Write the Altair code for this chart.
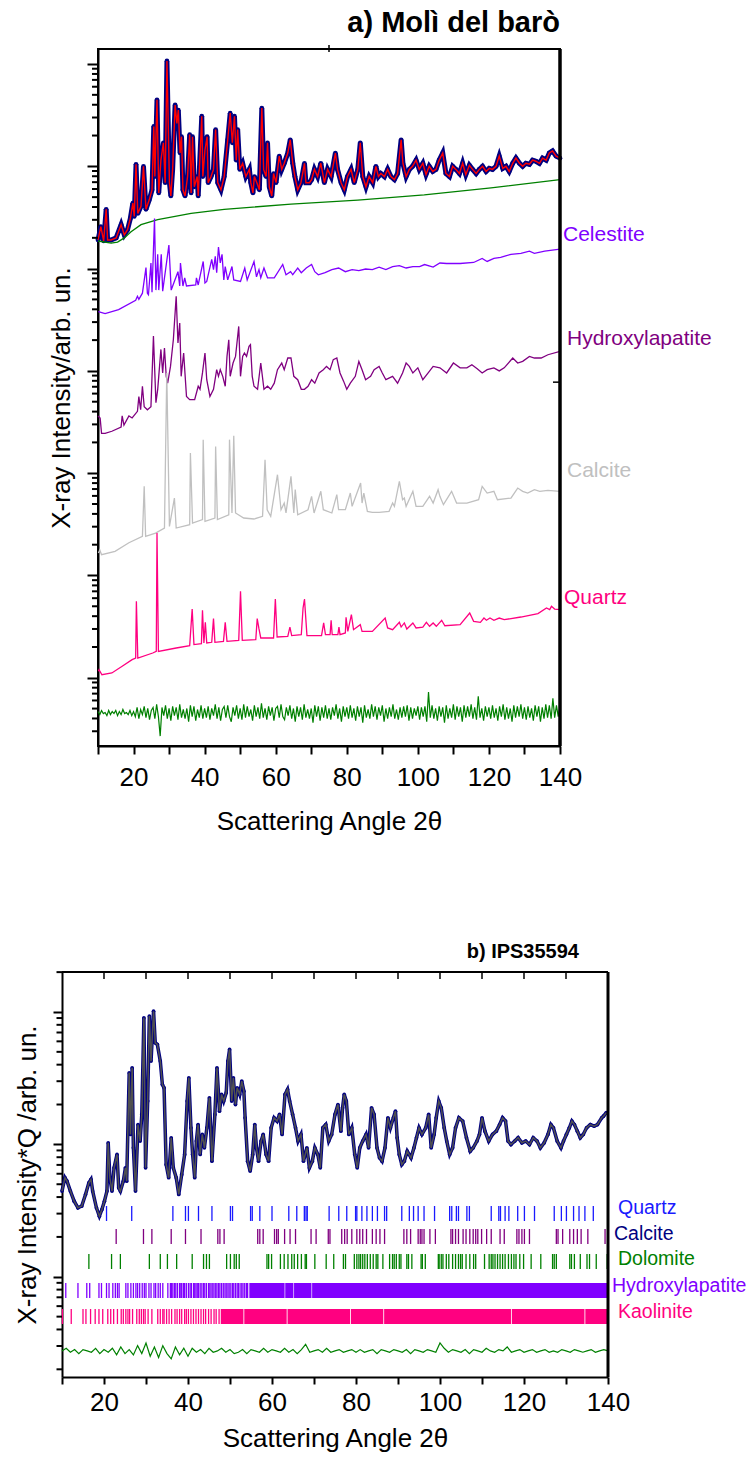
import altair as alt
import pandas as pd

FONT = "Liberation Sans"

# =================== Panel a) Molì del barò ===================
# pairs: (2theta in degrees, log10 of intensity as displayed)
a_profile = [(10.0,4.28),(10.8,4.41),(11.6,4.27),(12.3,4.58),(12.7,4.28),(13.7,4.28),(15.1,4.30),(16.5,4.43),(17.4,4.33),(18.3,4.38),(19.1,4.49),(19.8,4.64),(20.2,4.51),(20.7,5.02),(21.2,4.54),(22.1,4.61),(22.8,5.00),(23.5,4.58),(24.4,4.67),(25.2,4.77),(25.7,5.39),(26.0,4.90),(26.6,5.65),(27.1,4.74),(27.7,5.06),(28.4,5.23),(28.9,4.84),(29.4,6.03),(30.1,4.84),(30.5,4.71),(31.0,4.97),(31.7,5.60),(32.2,5.42),(32.6,5.55),(33.1,5.13),(33.5,5.29),(33.9,4.77),(34.5,4.71),(35.2,4.90),(35.8,5.31),(36.2,4.74),(36.6,5.29),(37.1,4.80),(37.9,4.90),(38.2,4.71),(39.2,5.49),(39.5,4.90),(40.1,5.16),(40.7,5.29),(41.0,4.84),(41.8,4.90),(42.5,4.97),(43.1,5.36),(43.7,4.84),(44.6,4.77),(45.5,4.90),(46.5,5.26),(47.2,5.52),(47.8,5.23),(48.4,5.49),(48.9,5.06),(49.3,5.36),(49.9,4.97),(50.7,5.03),(51.6,4.90),(52.6,4.97),(53.0,4.84),(53.6,4.74),(54.0,4.90),(54.7,4.84),(55.4,4.77),(56.1,5.57),(56.6,4.97),(57.3,4.90),(57.7,5.23),(58.2,4.80),(58.9,4.71),(59.4,4.93),(60.1,4.84),(61.0,5.10),(61.7,4.97),(62.4,5.03),(63.4,5.13),(64.1,5.26),(64.8,5.03),(65.4,4.90),(66.2,4.77),(67.1,4.84),(68.1,5.03),(68.5,4.84),(69.5,4.84),(70.1,4.87),(70.9,4.97),(71.8,4.90),(72.7,5.03),(73.7,4.84),(74.6,4.97),(75.6,4.90),(76.8,5.13),(77.4,4.97),(78.4,4.84),(79.3,4.77),(80.2,4.90),(81.2,4.97),(82.1,4.84),(83.1,4.97),(83.8,5.23),(84.5,4.90),(85.4,4.80),(86.3,4.90),(87.3,4.84),(88.2,5.00),(88.9,4.90),(89.6,4.93),(90.6,4.90),(91.5,4.97),(92.4,4.90),(93.4,4.87),(94.3,4.93),(95.3,5.26),(95.8,5.03),(96.7,4.90),(97.6,4.97),(98.5,5.00),(99.5,5.06),(100.4,4.97),(101.4,5.03),(102.3,4.92),(103.2,5.00),(104.2,4.95),(105.1,4.97),(106.0,5.06),(107.0,5.13),(107.9,4.93),(108.9,4.90),(109.8,5.00),(110.7,4.97),(111.7,4.93),(112.6,5.03),(113.5,4.92),(114.5,5.01),(115.4,4.97),(116.4,4.93),(117.3,4.97),(118.2,5.00),(119.2,4.95),(120.1,4.98),(121.0,4.97),(122.0,5.00),(122.9,5.10),(123.9,4.98),(124.8,5.00),(125.7,4.95),(126.7,5.03),(127.6,5.08),(128.6,5.03),(129.5,5.00),(130.4,5.03),(131.4,5.02),(132.3,5.06),(133.2,5.05),(134.2,5.03),(135.1,5.08),(136.1,5.06),(137.0,5.13),(137.9,5.15),(138.9,5.10),(140.0,5.08)]
a_background = [(10.0,4.27),(13.7,4.25),(15.5,4.26),(17.4,4.30),(19.3,4.36),(22.1,4.43),(26.8,4.48),(36.2,4.54),(45.5,4.58),(64.3,4.63),(83.1,4.67),(101.8,4.72),(120.6,4.79),(140.0,4.87)]
a_celestite = [(10.1,3.58),(12.0,3.56),(15.8,3.60),(20.6,3.69),(21.1,3.73),(21.5,3.70),(22.5,3.76),(23.5,4.01),(23.9,3.76),(24.2,3.745),(24.9,4.055),(25.2,3.77),(25.9,4.49),(26.3,3.79),(26.8,4.14),(27.1,3.79),(27.8,4.14),(28.2,3.78),(29.95,4.23),(30.6,3.79),(32.5,3.97),(33.0,3.83),(33.2,4.055),(33.9,3.83),(34.4,3.91),(34.9,3.83),(37.5,3.84),(37.7,3.91),(38.2,3.84),(39.6,4.07),(40.1,3.86),(40.6,3.875),(42.0,4.09),(42.5,3.99),(43.0,4.12),(43.4,3.96),(43.9,4.21),(44.4,4.055),(44.9,4.14),(45.4,3.89),(45.8,4.02),(46.5,3.89),(47.7,4.02),(48.2,3.89),(50.1,3.875),(51.3,4.006),(51.98,3.89),(53.9,4.07),(54.6,3.92),(55.3,3.99),(55.8,3.91),(56.7,4.006),(57.7,3.91),(59.6,3.91),(61.98,4.04),(62.9,3.94),(64.2,3.97),(64.8,3.94),(66.2,4.006),(67.2,3.96),(68.6,4.006),(70.1,4.04),(71.0,3.97),(72.0,3.94),(73.9,3.96),(75.8,3.99),(77.7,4.006),(79.6,3.97),(81.5,3.99),(83.4,3.98),(85.3,3.996),(87.2,3.99),(89.1,4.015),(91.0,3.99),(92.9,4.02),(94.8,4.03),(96.7,4.006),(98.6,4.02),(100.5,4.02),(101.9,4.04),(104.3,4.015),(106.2,4.055),(108.1,4.05),(111.9,4.05),(115.7,4.06),(118.1,4.10),(119.5,4.07),(121.4,4.10),(123.3,4.11),(126.2,4.14),(129.0,4.15),(131.4,4.17),(132.8,4.15),(135.7,4.17),(140.0,4.19)]
a_hydroxylapatite = [(10.0,2.56),(10.6,2.54),(11.0,2.39),(12.0,2.39),(13.9,2.41),(16.5,2.45),(16.8,2.56),(17.3,2.47),(18.7,2.56),(19.6,2.54),(21.1,2.605),(21.5,2.75),(22.0,2.62),(22.5,2.85),(23.0,2.65),(23.9,2.62),(24.9,2.65),(25.6,3.34),(26.3,2.69),(26.8,2.82),(27.7,3.21),(28.2,2.98),(28.7,3.224),(29.2,2.947),(29.6,2.88),(30.4,3.044),(31.2,3.305),(32.0,3.729),(32.5,3.273),(33.0,3.468),(33.4,2.947),(34.1,3.175),(34.9,2.75),(35.8,2.719),(37.2,2.719),(38.2,2.85),(38.7,2.82),(39.4,2.98),(40.1,3.175),(40.6,2.914),(41.5,2.75),(42.5,2.82),(43.4,3.012),(43.9,2.947),(44.4,3.012),(45.1,2.947),(45.8,2.85),(46.3,3.142),(46.8,3.305),(47.2,2.947),(48.0,3.077),(48.7,3.142),(49.1,3.273),(49.6,3.435),(50.1,2.947),(50.7,3.142),(51.2,3.175),(51.8,3.142),(52.5,3.24),(52.9,3.256),(53.4,2.947),(53.9,2.85),(54.9,2.82),(55.8,3.077),(56.7,2.82),(57.7,2.85),(58.6,2.82),(59.6,2.88),(60.5,3.012),(61.7,3.077),(62.4,3.012),(63.4,3.126),(64.3,3.126),(65.1,2.947),(66.2,2.914),(67.2,2.82),(68.1,2.82),(69.1,2.85),(70.1,2.914),(71.0,2.88),(72.2,2.98),(73.4,3.012),(74.3,3.044),(75.3,3.012),(76.2,3.11),(77.2,3.126),(78.1,2.98),(79.1,2.90),(80.0,2.82),(81.0,2.88),(82.4,2.947),(83.4,3.093),(84.3,3.012),(85.3,2.914),(86.7,2.947),(87.7,3.012),(89.1,3.044),(90.0,2.98),(91.0,2.914),(92.9,2.947),(94.3,2.88),(95.7,2.98),(96.7,3.077),(97.6,3.044),(98.6,2.98),(100.0,3.03),(101.4,2.914),(102.9,2.98),(104.3,3.044),(106.2,3.03),(108.1,2.98),(110.0,3.077),(111.9,3.03),(113.8,3.03),(115.2,3.06),(116.7,3.02),(118.1,2.98),(119.5,3.012),(121.4,3.03),(122.9,3.0),(124.3,3.03),(126.7,3.126),(128.1,3.077),(129.5,3.093),(131.4,3.142),(132.8,3.126),(134.7,3.126),(136.6,3.158),(140.0,3.19)]
a_calcite = [(10.1,1.22),(10.5,1.25),(11.0,1.204),(14.8,1.236),(18.7,1.32),(22.5,1.383),(23.0,1.871),(23.4,1.383),(26.2,1.415),(28.7,1.464),(29.35,2.979),(30.1,1.48),(31.5,1.757),(32.0,1.464),(35.8,1.497),(36.0,2.197),(36.6,1.513),(39.4,1.546),(39.6,2.328),(40.1,1.529),(42.9,1.562),(43.1,2.262),(43.6,1.546),(46.8,1.594),(47.0,2.328),(47.7,1.611),(48.2,2.367),(48.7,1.611),(51.0,1.562),(53.9,1.552),(56.3,1.578),(56.6,1.806),(57.0,2.132),(57.6,1.643),(58.6,1.578),(60.5,1.985),(61.5,1.643),(62.4,1.708),(62.9,1.611),(64.3,1.969),(65.1,1.611),(65.5,1.839),(66.2,1.594),(69.1,1.643),(70.1,1.774),(70.8,1.611),(72.7,1.823),(73.4,1.643),(75.8,1.611),(77.2,1.790),(77.7,1.643),(79.6,1.643),(81.0,1.806),(81.5,1.676),(83.9,1.904),(84.3,1.708),(84.8,1.806),(85.8,1.627),(87.2,1.617),(89.1,1.617),(91.9,1.627),(92.9,1.708),(93.4,1.676),(94.8,1.92),(95.7,1.741),(96.2,1.757),(96.7,1.676),(98.6,1.823),(99.5,1.676),(101.4,1.676),(103.3,1.774),(104.3,1.708),(105.7,1.839),(106.2,1.774),(107.2,1.692),(109.5,1.823),(110.9,1.708),(113.8,1.708),(117.1,1.741),(118.1,1.871),(119.5,1.806),(121.4,1.823),(122.4,1.741),(126.2,1.757),(128.1,1.855),(129.5,1.823),(130.9,1.806),(132.8,1.839),(134.3,1.823),(136.6,1.832),(140.0,1.823)]
a_quartz = [(10.1,0.063),(10.3,0.079),(11.1,0.030),(13.9,0.047),(16.8,0.112),(19.6,0.177),(20.6,0.193),(20.8,0.747),(21.2,0.193),(25.4,0.242),(26.4,0.258),(26.6,1.415),(27.0,0.258),(32.0,0.291),(35.8,0.314),(36.5,0.672),(37.0,0.324),(39.1,0.333),(39.4,0.659),(39.8,0.340),(40.2,0.542),(40.6,0.340),(42.0,0.347),(42.5,0.578),(42.9,0.347),(45.3,0.356),(45.8,0.542),(46.3,0.356),(49.6,0.366),(50.1,0.845),(50.6,0.366),(54.4,0.373),(54.8,0.578),(55.3,0.477),(55.8,0.389),(59.4,0.389),(59.9,0.770),(60.4,0.399),(63.4,0.405),(64.0,0.496),(64.5,0.412),(67.2,0.421),(67.7,0.682),(68.1,0.770),(68.8,0.412),(72.9,0.412),(73.5,0.536),(74.0,0.421),(75.3,0.421),(75.6,0.562),(75.9,0.421),(77.5,0.421),(77.8,0.496),(78.1,0.421),(79.6,0.438),(79.8,0.591),(80.3,0.454),(81.3,0.617),(81.9,0.470),(83.8,0.519),(84.3,0.454),(87.2,0.454),(90.8,0.584),(91.5,0.487),(92.9,0.470),(94.8,0.542),(95.3,0.496),(96.2,0.536),(96.9,0.477),(98.6,0.536),(99.5,0.487),(101.4,0.496),(102.4,0.542),(103.3,0.503),(104.3,0.536),(105.2,0.503),(106.7,0.562),(107.6,0.509),(111.9,0.519),(114.6,0.633),(115.7,0.552),(117.6,0.542),(118.6,0.584),(119.3,0.562),(120.3,0.584),(121.4,0.562),(122.9,0.584),(124.3,0.568),(129.0,0.594),(133.8,0.627),(136.2,0.682),(137.1,0.666),(137.6,0.698),(138.5,0.672),(140.0,0.666)]
# difference (obs - calc): residuals in 0.01 decade, sampled every 0.5 deg from 10 to 140
a_diff_resid = [1,-2,2,-1,0,-3,2,-2,1,-1,2,-3,1,-2,3,-1,0,-2,2,-3,1,
                -4,5,-6,3,-2,6,-5,4,-7,2,5,-6,8,-4,-23,5,-3,7,-6,4,-8,6,-3,5,-7,8,-5,3,-6,4,-9,7,-4,6,-8,3,-5,7,-6,4,
                -5,6,-7,4,-3,8,-6,5,-8,3,6,-5,7,-4,-9,5,-3,7,-6,4,-7,8,-5,6,-4,3,-8,7,-4,5,-6,9,-5,4,-7,6,-3,5,-8,4,
                6,-5,8,-4,-7,5,-3,7,-6,4,-9,6,-4,5,-7,8,-5,3,-6,4,-10,7,-4,6,-8,5,-5,7,-6,4,-7,5,-3,8,-6,4,-9,6,-4,5,
                -6,7,-5,4,-8,6,-4,5,-10,7,-5,3,-6,8,-4,6,-7,5,-3,7,-9,4,-6,5,-4,8,-6,3,-7,5,-5,6,-4,7,-8,5,-6,4,-3,6,
                -7,5,-4,6,-9,20,-5,7,-6,4,-8,6,-4,5,-10,7,-6,4,-5,8,-7,6,-4,5,-9,7,-5,6,-4,8,-6,5,-7,16,-5,4,-8,6,-4,5,
                -6,7,-5,4,-8,6,-4,8,-7,5,-6,4,-9,7,-5,6,-4,8,-6,5,-7,6,-5,4,-8,7,-4,6,-9,5,-6,8,-5,7,-6,14,-5,7,-4,6]
A_DIFF_BASE = -0.34  # decade at which the difference curve is displayed

a_phase_names = ["Celestite", "Hydroxylapatite", "Calcite", "Quartz"]
a_phase_label_logy = [4.33, 3.31, 2.02, 0.78]
a_phase_colors = ["#8000FF", "#800080", "#C0C0C0", "#FF0080"]

# =================== Panel b) IPS35594 ===================
b_profile = [(10.0,0.647),(10.7,0.748),(11.2,0.722),(12.0,0.647),(12.9,0.571),(13.8,0.521),(14.7,0.534),(15.6,0.622),(16.4,0.710),(16.9,0.735),(17.3,0.647),(18.2,0.521),(18.9,0.458),(19.5,0.508),(20.1,0.571),(20.7,0.647),(21.0,1.012),(21.4,0.748),(21.9,0.647),(22.4,0.823),(23.1,0.924),(23.5,0.672),(23.9,0.647),(24.6,0.722),(25.1,0.823),(25.4,0.722),(26.0,1.541),(26.3,1.075),(26.7,1.578),(27.0,0.974),(27.5,0.647),(28.1,1.150),(28.6,1.025),(29.0,1.226),(29.5,1.956),(29.9,0.823),(30.4,1.327),(30.8,1.969),(31.2,1.629),(31.8,2.006),(32.2,1.767),(32.7,1.755),(33.4,1.629),(33.9,1.452),(34.3,1.427),(34.8,0.848),(35.4,0.748),(36.0,1.050),(36.5,0.823),(37.2,0.748),(37.8,0.622),(38.5,0.773),(39.2,0.924),(39.8,1.327),(40.2,1.503),(40.7,1.125),(41.1,0.924),(41.6,0.748),(42.0,1.025),(42.4,1.150),(42.9,0.924),(43.4,1.075),(43.9,0.974),(44.5,1.125),(45.1,1.352),(45.7,0.873),(46.4,1.226),(46.9,1.578),(47.5,1.251),(48.0,1.377),(48.5,1.327),(49.1,1.390),(49.5,1.629),(49.9,1.717),(50.4,1.327),(50.8,1.503),(51.3,1.301),(51.7,1.427),(52.3,1.377),(52.8,1.478),(53.3,1.402),(53.6,1.201),(54.2,0.873),(54.8,0.798),(55.4,0.924),(55.9,1.150),(56.3,0.974),(56.8,0.873),(57.4,1.025),(57.9,1.075),(58.6,0.924),(59.2,0.873),(59.8,1.125),(60.5,1.201),(61.2,1.176),(61.8,1.226),(62.4,1.075),(63.1,1.377),(63.7,1.415),(64.2,1.327),(64.9,1.226),(65.6,1.125),(66.2,1.025),(66.9,1.075),(67.5,0.873),(68.3,0.974),(68.9,0.823),(69.6,0.873),(70.2,0.974),(70.9,0.924),(71.5,0.823),(72.1,1.125),(72.8,1.150),(73.5,1.025),(74.2,1.075),(75.0,1.226),(75.7,1.301),(76.4,1.100),(76.8,1.276),(77.2,1.377),(77.7,1.327),(78.3,1.075),(79.0,1.125),(79.7,0.924),(80.3,0.823),(80.9,0.974),(81.6,1.025),(82.4,1.075),(83.0,0.974),(83.7,1.276),(84.3,1.226),(85.0,0.974),(85.6,0.899),(86.2,0.873),(86.9,0.974),(87.6,1.201),(88.2,1.125),(88.9,1.201),(89.4,1.251),(89.8,1.050),(90.3,0.924),(90.9,0.848),(91.5,0.873),(92.2,0.949),(93.1,0.899),(93.8,0.974),(94.4,1.050),(95.0,1.125),(95.7,1.075),(96.6,1.125),(97.3,1.226),(97.9,0.974),(98.6,1.075),(99.1,1.201),(99.7,1.327),(100.3,1.276),(101.0,1.125),(101.6,1.025),(102.3,0.924),(103.0,0.974),(103.7,1.125),(104.5,1.201),(105.4,1.176),(106.3,1.050),(107.2,0.949),(107.9,0.974),(108.8,1.025),(109.4,1.075),(110.0,1.201),(110.7,1.100),(111.6,1.025),(112.5,1.075),(113.4,1.100),(114.2,1.150),(114.9,1.201),(115.6,1.176),(116.2,1.025),(116.9,0.999),(117.8,1.025),(118.6,1.050),(119.5,1.012),(120.4,1.025),(121.3,0.999),(122.2,1.050),(123.1,1.025),(123.9,0.974),(124.8,1.012),(125.7,1.075),(126.4,1.150),(127.0,1.125),(127.9,1.025),(128.8,0.974),(129.4,1.025),(130.1,1.075),(130.8,1.125),(131.4,1.176),(132.0,1.150),(132.7,1.100),(133.4,1.050),(134.1,1.075),(134.9,1.125),(135.8,1.150),(136.7,1.138),(137.5,1.150),(138.5,1.201),(138.9,1.213),(139.6,1.239)]
# difference: residuals in 0.01 decade, every 1 deg from 10 to 140
b_diff_resid = [0,2,-1,1,-2,1,0,-1,2,-2,1,
                -1,2,-3,3,-2,1,-3,4,-2,6,-4,3,-5,4,-2,-6,3,-3,2,-4,
                2,-1,1,-2,2,-1,0,2,-1,1,-2,-1,1,-2,1,0,-1,2,-1,1,
                0,-1,2,-1,1,-2,1,5,-1,0,1,-1,2,-1,0,1,-1,0,1,-1,
                1,-1,0,1,-2,1,0,-1,1,0,-1,1,-2,1,0,-1,1,0,-1,6,
                2,-1,1,0,-1,1,-2,1,0,-1,2,0,-1,1,0,3,-1,0,1,-1,
                0,1,-1,0,1,-1,0,-1,1,0,-1,1,0,-1,0,1,-1,0,1,0]
B_DIFF_BASE = -0.56

b_quartz_ticks = [20.6,26.6,36.4,39.4,40.1,42.5,45.7,50.1,50.6,54.9,55.3,57.1,60.0,64.0,65.9,67.7,68.1,68.4,73.6,75.9,77.8,79.9,80.2,81.4,82.6,83.9,85.1,86.8,87.3,90.9,92.7,93.7,94.8,96.2,98.7,102.3,102.8,103.9,104.4,106.4,107.0,112.2,114.0,114.4,115.5,116.4,118.5,120.1,122.5,127.2,128.9,130.1,131.8,133.1,134.5,136.5]
b_calcite_ticks = [22.9,29.4,31.4,36.0,39.4,43.1,47.1,47.6,48.6,56.6,57.1,57.9,60.6,61.1,61.5,63.0,64.3,65.6,69.3,70.5,73.4,73.8,76.6,77.3,77.9,79.0,80.2,80.9,81.6,82.5,83.9,84.8,85.7,86.8,91.4,92.1,93.0,94.8,95.3,95.7,96.2,97.6,98.9,102.6,103.0,103.7,104.4,105.5,106.2,107.1,107.9,108.5,109.0,109.9,111.1,112.2,114.3,115.3,118.3,118.8,119.5,120.1,121.3,127.7,128.1,129.2,130.9,131.8,132.7,133.6,135.2,139.3]
b_dolomite_ticks = [16.4,21.8,23.9,30.8,33.4,35.1,37.3,41.0,43.7,44.4,45.1,49.2,50.1,51.0,51.5,52.2,58.8,59.2,59.9,62.0,62.9,63.8,64.7,65.3,66.1,67.0,67.9,68.2,70.2,72.9,74.7,77.0,77.5,79.6,80.2,80.7,81.1,81.6,82.1,82.7,83.4,84.1,84.8,85.2,86.4,88.0,88.7,89.1,89.6,90.3,90.7,92.1,92.5,93.3,95.5,95.8,96.5,99.6,99.8,100.3,100.7,101.5,102.1,103.0,103.7,104.4,104.9,105.3,106.2,107.1,108.0,108.5,110.6,111.7,112.2,112.6,113.1,113.7,114.3,114.9,115.5,116.3,117.0,117.6,118.1,119.0,119.9,121.7,124.0,126.8,127.2,127.7,130.9,131.3,132.0,133.4,135.0,135.6,137.2,139.8]
b_hap_ticks = [10.9,13.8,15.9,16.6,18.8,19.4,20.6,21.2,22.1,22.7,23.2,23.6,25.2,25.7,26.4,27.0,27.6,28.0,28.5,29.1,29.6,30.0,30.7,31.2,31.9,32.3,32.9,33.4,34.0,35.2,35.8,36.1,36.4,36.8,37.1,37.5,38.0,38.3,38.5,38.9,39.2,39.6,40.1,40.5,40.8,41.3,41.6,41.9,42.2,42.5,42.9,43.3,43.7,44.0,44.4,44.9,45.2,45.5,45.9,46.2,46.6,46.9,47.3,47.6,48.0,48.4,48.8,49.1,49.5,49.8,50.2,50.6,50.9,51.3,51.7,52.0,52.4,52.8,53.1,53.5,53.9,54.2]
b_hap_bands = [(54.6,63.0),(63.15,65.1),(65.25,69.4),(69.55,140.0)]
b_kao_ticks = [10.1,12.2,15.0,15.7,16.8,17.9,18.8,19.7,20.9,21.6,22.3,23.2,24.1,24.6,25.2,25.7,26.1,26.8,27.8,28.4,28.9,29.4,29.8,30.5,31.4,32.8,33.4,34.0,34.3,34.9,35.5,36.1,36.9,37.4,38.0,38.5,39.2,39.6,40.1,40.7,41.3,41.9,42.5,43.1,43.7,44.2,44.9,45.5,46.2,46.7,47.4]
b_kao_bands = [(47.8,53.2),(53.4,63.5),(63.7,78.6),(78.8,86.5),(86.7,116.9),(117.1,134.4),(134.6,140.0)]

b_phase_names = ["Quartz", "Calcite", "Dolomite", "Hydroxylapatite", "Kaolinite"]
b_label_colors = ["#1A1AFF", "#000080", "#008000", "#8000FF", "#FF0080"]
b_tick_colors = ["#1A1AFF", "#800080", "#008000", "#8000FF", "#FF0080"]

# =================== helpers ===================
def pairs_df(pairs):
    return pd.DataFrame({"tt": [p[0] for p in pairs], "I": [10 ** p[1] for p in pairs]})


def resid_df(resid, start, step, base):
    return pd.DataFrame({"tt": [start + step * i for i in range(len(resid))],
                         "I": [10 ** (base + r / 100.0) for r in resid]})


def axis_common(**kw):
    d = dict(domainColor="black", domainWidth=2, tickColor="black", tickWidth=2,
             labelFont=FONT, labelFontSize=26, labelColor="black",
             titleFont=FONT, titleFontSize=26, titleFontWeight="normal", titleColor="black",
             grid=False, labelOverlap=False, labelFlush=False)
    d.update(kw)
    return alt.Axis(**d)


X_TICKS = list(range(10, 141, 10))
LABEL_EXPR = "datum.value % 20 === 0 ? datum.label : ''"

# =================== panel a ===================
WA, HA = 462, 697
A_YMIN, A_YMAX = 10 ** -0.667, 10 ** 6.147
xs_a = alt.Scale(domain=[10, 140], nice=False, zero=False)
ys_a = alt.Scale(type="log", domain=[A_YMIN, A_YMAX], nice=False)
a_xaxis = axis_common(values=X_TICKS, labelExpr=LABEL_EXPR, tickSize=8, labelPadding=10,
                      title="Scattering Angle 2θ", titlePadding=18)
a_yaxis = axis_common(values=[1, 10, 100, 1e3, 1e4, 1e5, 1e6], labels=False, tickSize=11,
                      title="X-ray Intensity/arb. un.", titlePadding=12)
XA = alt.X("tt:Q", scale=xs_a, axis=a_xaxis)
YA = alt.Y("I:Q", scale=ys_a, axis=a_yaxis)

a_prof = pairs_df(a_profile)
a_layers = [
    alt.Chart(a_prof).mark_line(color="#000080", strokeWidth=5).encode(x=XA, y=YA),
    alt.Chart(a_prof).mark_circle(color="#000080", size=22, opacity=1).encode(x=XA, y=YA),
    alt.Chart(a_prof).mark_line(color="#FF0000", strokeWidth=1.4).encode(x=XA, y=YA),
    alt.Chart(pairs_df(a_background)).mark_line(color="#008000", strokeWidth=1.3).encode(x=XA, y=YA),
    alt.Chart(pairs_df(a_celestite)).mark_line(color=a_phase_colors[0], strokeWidth=1.3).encode(x=XA, y=YA),
    alt.Chart(pairs_df(a_hydroxylapatite)).mark_line(color=a_phase_colors[1], strokeWidth=1.3).encode(x=XA, y=YA),
    alt.Chart(pairs_df(a_calcite)).mark_line(color=a_phase_colors[2], strokeWidth=1.3).encode(x=XA, y=YA),
    alt.Chart(pairs_df(a_quartz)).mark_line(color=a_phase_colors[3], strokeWidth=1.3).encode(x=XA, y=YA),
    alt.Chart(resid_df(a_diff_resid, 10.0, 0.5, A_DIFF_BASE)).mark_line(color="#008000", strokeWidth=1.2).encode(x=XA, y=YA),
]
a_minor = [k * 10 ** n for n in range(-1, 7) for k in range(2, 10) if A_YMIN <= k * 10 ** n <= A_YMAX]
a_layers.append(alt.Chart(pd.DataFrame({"I": a_minor})).mark_rule(color="black", strokeWidth=2).encode(
    y=YA, x=alt.value(-6), x2=alt.value(0)))
a_layers.append(alt.Chart(pd.DataFrame({"tt": [140]})).mark_rule(color="black", strokeWidth=3.5).encode(
    x=XA, y=alt.value(0), y2=alt.value(HA)))
# the two stray frame ticks of the original (top edge near 75 deg, right edge near 10^2.9)
a_layers.append(alt.Chart(pd.DataFrame({"tt": [75]})).mark_rule(color="black", strokeWidth=1.5).encode(
    x=XA, y=alt.value(-4), y2=alt.value(3)))
a_layers.append(alt.Chart(pd.DataFrame({"I": [10 ** 2.89]})).mark_rule(color="black", strokeWidth=1.5).encode(
    y=YA, x=alt.value(WA - 7), x2=alt.value(WA)))
a_dx = [3, 7, 7, 4]
for name, ly, col, dx in zip(a_phase_names, a_phase_label_logy, a_phase_colors, a_dx):
    a_layers.append(alt.Chart(pd.DataFrame({"tt": [140], "I": [10 ** ly], "t": [name]})).mark_text(
        align="left", baseline="middle", font=FONT, fontSize=21, color=col, dx=dx).encode(x=XA, y=YA, text="t:N"))
# white layout markers fixing the panel's outer extent (left and bottom)
a_layers.append(alt.Chart(pd.DataFrame({"m": [0]})).mark_rule(color="white", strokeWidth=1).encode(
    x=alt.value(-96.5), x2=alt.value(-96.5), y=alt.value(0), y2=alt.value(1)))
a_layers.append(alt.Chart(pd.DataFrame({"m": [0]})).mark_rule(color="white", strokeWidth=1).encode(
    x=alt.value(0), x2=alt.value(1), y=alt.value(HA + 110), y2=alt.value(HA + 110)))

top = alt.layer(*a_layers).properties(
    width=WA, height=HA,
    title=alt.Title("a) Molì del barò", anchor="end", frame="group", font=FONT, fontSize=29,
                    fontWeight="bold", color="black", baseline="alphabetic", offset=-17))

# =================== panel b ===================
# its plot area starts 36 px left of the column origin shared with panel a
SHIFT = 36
WB, HB = 546 - SHIFT, 405
B_YMIN, B_YMAX = 10 ** -0.757, 10 ** 2.302
xs_b = alt.Scale(domain=[10, 140], range=[-SHIFT, WB], nice=False, zero=False)
ys_b = alt.Scale(type="log", domain=[B_YMIN, B_YMAX], nice=False)
b_xaxis = axis_common(values=X_TICKS, labelExpr=LABEL_EXPR, tickSize=7, labelPadding=5,
                      title="Scattering Angle 2θ", titlePadding=10)
b_yaxis = axis_common(values=[1, 10, 100], labels=False, tickSize=9, offset=SHIFT,
                      title="X-ray Intensity*Q /arb. un.", titlePadding=12)
XB = alt.X("tt:Q", scale=xs_b, axis=b_xaxis)
YB = alt.Y("I:Q", scale=ys_b, axis=b_yaxis)

b_prof = pairs_df(b_profile)
b_layers = [
    alt.Chart(b_prof).mark_line(color="#000080", strokeWidth=3.5).encode(x=XB, y=YB),
    alt.Chart(b_prof).mark_circle(color="#000080", size=14, opacity=1).encode(x=XB, y=YB),
    alt.Chart(b_prof).mark_line(color="#505050", strokeWidth=1.5).encode(x=XB, y=YB),
    alt.Chart(resid_df(b_diff_resid, 10.0, 1.0, B_DIFF_BASE)).mark_line(color="#008000", strokeWidth=1.2).encode(x=XB, y=YB),
]
row_spans = [(234, 249), (257, 272), (282, 297), (311, 326), (337, 352)]
tick_sets = [b_quartz_ticks, b_calcite_ticks, b_dolomite_ticks, b_hap_ticks, b_kao_ticks]
for ticks, col, (y0, y1) in zip(tick_sets, b_tick_colors, row_spans):
    b_layers.append(alt.Chart(pd.DataFrame({"tt": ticks})).mark_rule(color=col, strokeWidth=1.3).encode(
        x=XB, y=alt.value(y0), y2=alt.value(y1)))
for bands, col, (y0, y1) in [(b_hap_bands, b_tick_colors[3], row_spans[3]), (b_kao_bands, b_tick_colors[4], row_spans[4])]:
    b_layers.append(alt.Chart(pd.DataFrame({"tt": [s[0] for s in bands], "b": [s[1] for s in bands]})).mark_rect(color=col).encode(
        x=XB, x2="b:Q", y=alt.value(y0), y2=alt.value(y1)))
b_minor = [k * 10 ** n for n in range(-1, 3) for k in range(2, 10) if B_YMIN <= k * 10 ** n <= B_YMAX]
b_layers.append(alt.Chart(pd.DataFrame({"I": b_minor})).mark_rule(color="black", strokeWidth=2).encode(
    y=YB, x=alt.value(-SHIFT - 5.5), x2=alt.value(-SHIFT)))
# frame: top border with inward ticks, thick right border
b_layers.append(alt.Chart(pd.DataFrame({"m": [0]})).mark_rule(color="black", strokeWidth=2).encode(
    x=alt.value(-SHIFT), x2=alt.value(WB), y=alt.value(0), y2=alt.value(0)))
b_layers.append(alt.Chart(pd.DataFrame({"tt": list(range(20, 140, 10))})).mark_rule(color="black", strokeWidth=1.5).encode(
    x=XB, y=alt.value(0), y2=alt.value(7)))
b_layers.append(alt.Chart(pd.DataFrame({"tt": [140]})).mark_rule(color="black", strokeWidth=3).encode(
    x=XB, y=alt.value(0), y2=alt.value(HB)))
b_label_dx = [10, 6, 10, 4, 10]
b_label_y = [236, 262, 287, 314, 340]
for name, col, dx, yy in zip(b_phase_names, b_label_colors, b_label_dx, b_label_y):
    b_layers.append(alt.Chart(pd.DataFrame({"tt": [140], "t": [name]})).mark_text(
        align="left", baseline="middle", font=FONT, fontSize=19.5, color=col, dx=dx).encode(
        x=XB, y=alt.value(yy), text="t:N"))

bottom = alt.layer(*b_layers).properties(
    width=WB, height=HB, view=alt.ViewBackground(stroke="transparent"),
    title=alt.Title("b) IPS35594", anchor="end", frame="group", font=FONT, fontSize=20,
                    fontWeight="bold", color="black", baseline="alphabetic", offset=-7, dx=-29))

chart = alt.vconcat(top, bottom, spacing=82).properties(
    padding={"left": 0, "top": 8, "right": 0, "bottom": 0}, background="white"
).configure_view(stroke="black", strokeWidth=2)

chart.save("out.html", embed_options={"renderer": "svg", "actions": False})
